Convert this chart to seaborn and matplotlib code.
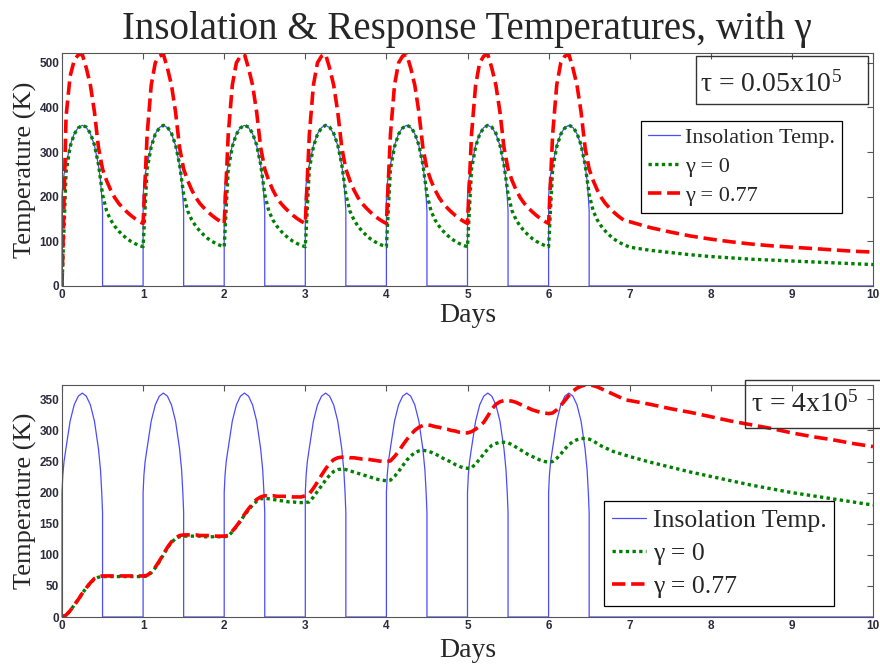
import matplotlib
matplotlib.use("Agg")
import matplotlib.pyplot as plt
import pandas as pd
import seaborn as sns
from matplotlib.patches import Rectangle

# ---------------- data ----------------
sunlit_days = [0, 1, 2, 3, 4, 5, 6]

# sampling positions inside one day for the insolation curve
sun_phase = [0.0, 0.0, 0.01, 0.025, 0.05, 0.1, 0.15, 0.2, 0.25, 0.3, 0.35, 0.4, 0.45, 0.475, 0.49, 0.5, 0.5]
insol_rows = [
    [0, 200, 228, 250, 272, 315, 341, 355, 360, 355, 341, 315, 270, 236, 200, 168, 0],
    [0, 200, 228, 250, 272, 315, 341, 355, 360, 355, 341, 315, 270, 236, 200, 168, 0],
    [0, 200, 228, 250, 272, 315, 341, 355, 360, 355, 341, 315, 270, 236, 200, 168, 0],
    [0, 200, 228, 250, 272, 315, 341, 355, 360, 355, 341, 315, 270, 236, 200, 168, 0],
    [0, 200, 228, 250, 272, 315, 341, 355, 360, 355, 341, 315, 270, 236, 200, 168, 0],
    [0, 200, 228, 250, 272, 315, 341, 355, 360, 355, 341, 315, 270, 236, 200, 168, 0],
    [0, 200, 228, 250, 272, 315, 341, 355, 360, 355, 341, 315, 270, 236, 200, 168, 0],
]
insol_end_day = [10.0]
insol_end_temp = [0]

# sampling positions inside one day for the response curves
phase = [0.00, 0.05, 0.10, 0.15, 0.20, 0.25, 0.30, 0.35, 0.40, 0.45,
         0.50, 0.55, 0.60, 0.65, 0.70, 0.75, 0.80, 0.85, 0.90, 0.95]
tail_days = [7.0, 7.25, 7.5, 7.75, 8.0, 8.25, 8.5, 8.75, 9.0, 9.25, 9.5, 9.75, 10.0]

# top panel: tau = 0.05x10^5
green_top = [
    [0, 255, 312, 340, 354, 360, 356, 342, 316, 272, 205, 168, 148, 134, 123, 114, 106, 100, 95, 91],
    [88, 262, 312, 340, 354, 360, 356, 342, 316, 272, 205, 168, 148, 134, 123, 114, 106, 100, 95, 91],
    [88, 262, 312, 340, 354, 360, 356, 342, 316, 272, 205, 168, 148, 134, 123, 114, 106, 100, 95, 91],
    [88, 262, 312, 340, 354, 360, 356, 342, 316, 272, 205, 168, 148, 134, 123, 114, 106, 100, 95, 91],
    [88, 262, 312, 340, 354, 360, 356, 342, 316, 272, 205, 168, 148, 134, 123, 114, 106, 100, 95, 91],
    [88, 262, 312, 340, 354, 360, 356, 342, 316, 272, 205, 168, 148, 134, 123, 114, 106, 100, 95, 91],
    [88, 262, 312, 340, 354, 360, 356, 342, 316, 272, 205, 168, 148, 134, 123, 114, 106, 100, 95, 91],
]
green_top_tail = [87, 80, 75, 70, 66, 63, 60, 58, 56, 54, 52, 50, 48]

red_top = [
    [0, 380, 470, 505, 518, 519, 488, 450, 390, 310, 262, 236, 215, 198, 185, 175, 166, 158, 151, 145],
    [140, 340, 450, 500, 515, 519, 488, 450, 390, 310, 262, 236, 215, 198, 185, 175, 166, 158, 151, 145],
    [140, 340, 450, 500, 515, 519, 488, 450, 390, 310, 262, 236, 215, 198, 185, 175, 166, 158, 151, 145],
    [140, 340, 450, 500, 515, 519, 488, 450, 390, 310, 262, 236, 215, 198, 185, 175, 166, 158, 151, 145],
    [140, 340, 450, 500, 515, 519, 488, 450, 390, 310, 262, 236, 215, 198, 185, 175, 166, 158, 151, 145],
    [140, 340, 450, 500, 515, 519, 488, 450, 390, 310, 262, 236, 215, 198, 185, 175, 166, 158, 151, 145],
    [140, 340, 450, 500, 515, 519, 488, 450, 390, 310, 262, 236, 215, 198, 185, 175, 166, 158, 151, 145],
]
red_top_tail = [144, 131, 121, 112, 105, 99, 94, 90, 87, 84, 81, 78, 76]

# bottom panel: tau = 4x10^5
green_bot = [
    [0, 3, 10, 19, 28, 38, 47, 55, 61, 64, 65, 65, 65, 65, 65, 65, 65, 65, 65, 65],
    [65, 66, 71, 79, 89, 100, 111, 120, 126, 129, 130, 130, 130, 130, 130, 129, 129, 129, 129, 129],
    [129, 130, 137, 145, 154, 164, 172, 180, 186, 190, 191, 190, 189, 188, 187, 186, 185, 185, 184, 184],
    [184, 185, 193, 202, 211, 220, 228, 234, 237, 238, 237, 235, 233, 231, 229, 227, 225, 223, 221, 220],
    [219, 220, 226, 234, 243, 252, 259, 264, 267, 268, 267, 265, 262, 259, 255, 252, 249, 245, 242, 240],
    [239, 240, 246, 254, 262, 270, 276, 279, 281, 281, 280, 277, 273, 269, 265, 261, 258, 255, 252, 250],
    [249, 250, 255, 262, 270, 277, 282, 285, 287, 287, 286, 283, 279, 275, 272, 269, 266, 264, 262, 260],
]
green_bot_tail = [258, 249, 241, 233, 226, 219, 212, 206, 200, 195, 190, 185, 180]

red_bot = [
    [0, 3, 10, 19, 28, 38, 47, 55, 62, 65, 66, 66, 66, 66, 66, 66, 66, 66, 66, 66],
    [66, 67, 72, 80, 90, 101, 112, 121, 127, 131, 132, 132, 132, 132, 131, 131, 131, 131, 130, 130],
    [130, 131, 138, 146, 155, 165, 174, 182, 189, 193, 195, 195, 195, 194, 194, 194, 194, 193, 193, 193],
    [195, 198, 207, 217, 228, 238, 247, 253, 256, 257, 257, 256, 256, 255, 254, 254, 253, 252, 251, 250],
    [250, 251, 258, 266, 276, 285, 293, 300, 305, 308, 309, 308, 306, 305, 303, 302, 300, 299, 297, 296],
    [296, 298, 302, 307, 313, 323, 334, 342, 346, 348, 348, 347, 345, 342, 339, 336, 333, 331, 329, 328],
    [327, 328, 333, 340, 348, 356, 363, 368, 371, 373, 373, 372, 370, 367, 364, 361, 358, 355, 352, 349],
]
red_bot_tail = [348, 342, 335, 329, 322, 315, 309, 303, 296, 290, 285, 279, 274]

legend_labels = ["Insolation Temp.", "γ = 0", "γ = 0.77"]
title_text = "Insolation & Response Temperatures, with γ"
tau_top_text = "τ = 0.05x10$^{5}$"
tau_bot_text = "τ = 4x10$^{5}$"
top_yticks = [0, 100, 200, 300, 400, 500]
bot_yticks = [0, 50, 100, 150, 200, 250, 300, 350]
xticks = [0, 1, 2, 3, 4, 5, 6, 7, 8, 9, 10]


# ---------------- build tables ----------------
def response_frame(rows, tail_vals):
    t = [d + p for d, row in zip(sunlit_days, rows) for p in phase[:len(row)]] + tail_days
    v = [x for row in rows for x in row] + tail_vals
    return pd.DataFrame({"Days": t, "T": v})


insol_df = pd.DataFrame({
    "Days": [d + p for d in sunlit_days for p in sun_phase] + insol_end_day,
    "T": [x for row in insol_rows for x in row] + insol_end_temp,
})

panels = [
    (response_frame(green_top, green_top_tail), response_frame(red_top, red_top_tail)),
    (response_frame(green_bot, green_bot_tail), response_frame(red_bot, red_bot_tail)),
]

# ---------------- style ----------------
sns.set_theme(style="white")
plt.rcParams["font.family"] = ["Liberation Serif", "DejaVu Serif"]
plt.rcParams["mathtext.fontset"] = "custom"
plt.rcParams["mathtext.rm"] = "Liberation Serif"
plt.rcParams["mathtext.it"] = "Liberation Serif:italic"

W, H = 880, 664
fig = plt.figure(figsize=(8.8, 6.64), dpi=100)
ax_top = fig.add_axes([62 / W, 1 - 286 / H, 811 / W, 233 / H])
ax_bot = fig.add_axes([62 / W, 1 - 617 / H, 811 / W, 232 / H])

blue = "#4b4bff"
green = "#008000"
red = "#ff0000"

for ax, (g_df, r_df) in zip([ax_top, ax_bot], panels):
    sns.lineplot(data=insol_df, x="Days", y="T", ax=ax, color=blue, lw=0.9,
                 sort=False, estimator=None, label=legend_labels[0])
    sns.lineplot(data=g_df, x="Days", y="T", ax=ax, color=green, lw=2.4,
                 linestyle=(0, (1, 1)), sort=False, estimator=None, label=legend_labels[1])
    sns.lineplot(data=r_df, x="Days", y="T", ax=ax, color=red, lw=2.6,
                 linestyle=(0, (3.7, 1.6)), sort=False, estimator=None, label=legend_labels[2])
    ax.lines[0].set_clip_on(False)
    ax.set_xlim(0, 10)
    ax.set_xticks(xticks)
    ax.tick_params(direction="in", top=True, right=True, length=4, width=0.8,
                   color="#555555", labelcolor="#2b2b3d", labelsize=8.5, pad=2)
    for s in ax.spines.values():
        s.set_color("#555555")
        s.set_linewidth(0.8)
    ax.set_xlabel("Days", fontsize=20)
    ax.set_ylabel("Temperature (K)", fontsize=19)
    ax.yaxis.set_label_coords(-0.031, 0.5)

ax_top.set_ylim(0, 522)
ax_top.set_yticks(top_yticks)
ax_bot.set_ylim(0, 373)
ax_bot.set_yticks(bot_yticks)
for ax in (ax_top, ax_bot):
    for lab in ax.get_xticklabels() + ax.get_yticklabels():
        lab.set_family("Liberation Sans")
        lab.set_fontweight("bold")
ax_top.xaxis.set_label_coords(0.5, -0.075)
ax_bot.xaxis.set_label_coords(0.5, -0.09)

leg1 = ax_top.legend(loc="upper left", bbox_to_anchor=((641 - 62) / 811, (286 - 121) / 233),
                     borderaxespad=0, fontsize=16, frameon=True, fancybox=False,
                     edgecolor="black", framealpha=1, handlelength=1.45,
                     handletextpad=0.25, labelspacing=0.38, borderpad=0.3)
leg1.get_frame().set_linewidth(0.9)
leg2 = ax_bot.legend(loc="upper left", bbox_to_anchor=((604 - 62) / 811, (617 - 501) / 232),
                     borderaxespad=0, fontsize=18.5, frameon=True, fancybox=False,
                     edgecolor="black", framealpha=1, handlelength=1.35,
                     handletextpad=0.25, labelspacing=0.4, borderpad=0.3)
leg2.get_frame().set_linewidth(0.9)

# title
fig.text(0.53, 1 - 29 / H, title_text, fontsize=28, ha="center", va="center")

# tau annotation boxes
fig.add_artist(Rectangle((696 / W, 1 - 104 / H), (868 - 696) / W, 48 / H,
                         transform=fig.transFigure, fill=False, ec="#333333", lw=1.0, zorder=5))
fig.text(700 / W, 1 - 92 / H, tau_top_text, fontsize=20, ha="left", va="baseline", zorder=6)
fig.add_artist(Rectangle((745 / W, 1 - 428 / H), (900 - 745) / W, 48 / H,
                         transform=fig.transFigure, fill=False, ec="#333333", lw=1.0, zorder=5))
fig.text(751 / W, 1 - 412 / H, tau_bot_text, fontsize=20, ha="left", va="baseline", zorder=6)

fig.savefig("out.png", dpi=100)
